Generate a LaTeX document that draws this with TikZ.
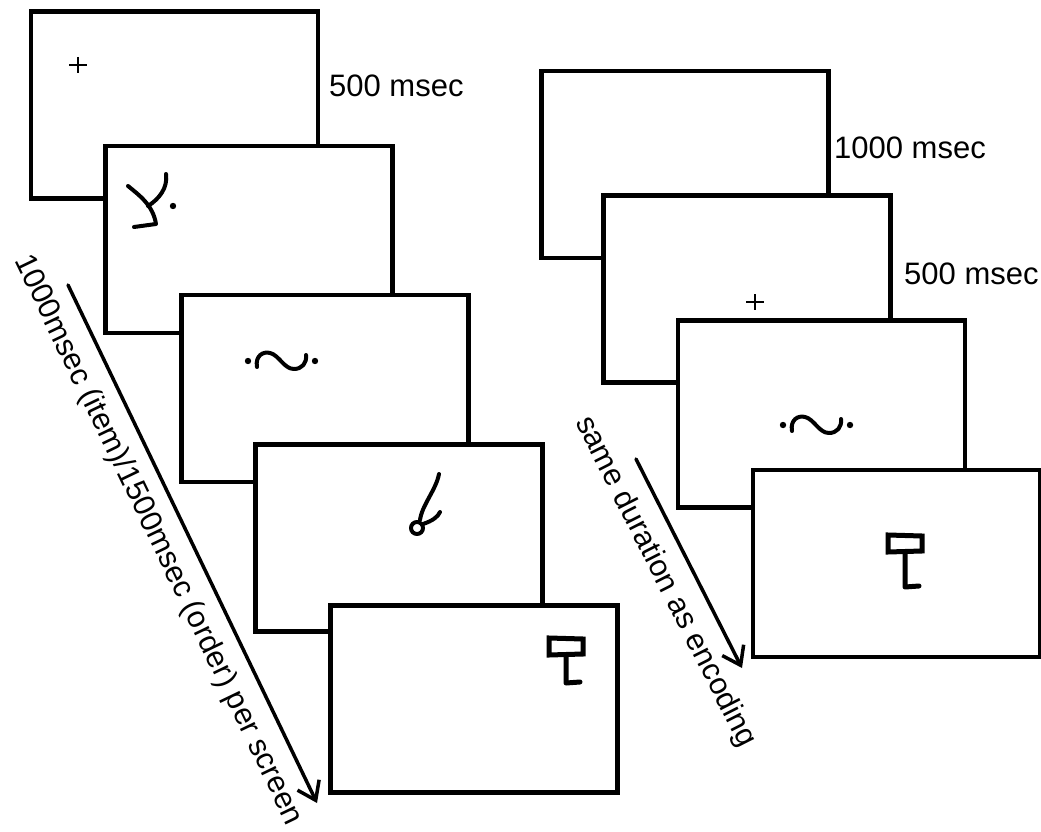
\documentclass[tikz,border=0pt]{standalone}
\usepackage{fontspec}
\setmainfont{Liberation Sans}
\usetikzlibrary{arrows.meta}
\begin{document}
\begin{tikzpicture}[x=1pt,y=-1pt,
  screen/.style={draw=black, fill=white, line width=4.5pt, minimum width=287pt,
    minimum height=187pt, inner sep=0pt, outer sep=0pt},
  timelabel/.style={anchor=base west, inner sep=0pt, font=\fontsize{31}{34}\selectfont},
  flowlabel/.style={inner sep=0pt, font=\fontsize{30.5}{34}\selectfont},
  timearrow/.style={line width=3.5pt, line cap=round,
    -{Straight Barb[length=17pt,width=24pt,line width=3.5pt]}},
  ink/.style={line width=4pt, line cap=round, line join=round},
  cross/.style={line width=2.5pt},
  pics/tildeglyph/.style={code={
    \fill (0,0) circle (3.2pt);
    \draw[ink] (9,6) .. controls (7,-5) and (15,-10) .. (22,-8)
      .. controls (31,-6) and (36,8) .. (46,8)
      .. controls (54,8) and (59,2) .. (58,-6);
    \fill (67,0) circle (3.2pt);
  }},
  pics/flagglyph/.style={code={
    \draw[ink, line width=5pt, line cap=butt, line join=miter]
      (0,0) -- (34,1) -- (34,16) -- (0,17) -- cycle;
    \draw[ink, line width=5pt] (17,17) -- (17,#1) -- (31,#1-1);
  }}
]
\useasboundingbox (0,0) rectangle (1041,832);

% ---- encoding sequence ----
\node[screen] (l1) at (174.5,105) {};
\draw[cross] (69,65) -- (87,65) (78,57) -- (78,73);
\node[timelabel] (t1) at (329,97) {500 msec};

\node[screen] (l2) at (249,239.5) {};
% character on screen 2
\draw[ink] (128,186) .. controls (139,195) and (153,205) .. (156,224) -- (134,227);
\draw[ink] (148,206) .. controls (159,199) and (168,188) .. (166,174);
\fill (173,206) circle (3.2pt);

\node[screen] (l3) at (325,388.5) {};
\pic at (248,361) {tildeglyph};

\node[screen] (l4) at (399,538) {};
% character on screen 4
\draw[ink] (439,474) .. controls (436,490) and (422,505) .. (420,520);
\draw[ink] (417,528) ellipse (6pt and 6pt);
\draw[ink] (423,524) .. controls (432,521) and (438,517) .. (440,512);

\node[screen] (l5) at (474,699) {};
\pic at (549,638) {flagglyph=45};

% ---- retrieval sequence ----
\node[screen] (r1) at (685,164.5) {};
\node[timelabel] (t2) at (834,158) {1000 msec};

\node[screen] (r2) at (747,289) {};
\draw[cross] (746,302) -- (764,302) (755,294) -- (755,310);
\node[timelabel] (t3) at (904,284) {500 msec};

\node[screen] (r3) at (821.5,414) {};
\pic at (783,425) {tildeglyph};

\node[screen] (r4) at (896.5,563.5) {};
\pic at (888,535) {flagglyph=52};

% ---- time arrows ----
\coordinate (la1) at (68,285);
\coordinate (la2) at (317,803);
\draw[timearrow] (la1) -- (la2);
\node[flowlabel, rotate=-64.3] (lt) at (158,540)
  {1000msec (item)/1500msec (order) per screen};

\coordinate (ra1) at (636,459);
\coordinate (ra2) at (742,668);
\draw[timearrow] (ra1) -- (ra2);
\node[flowlabel, rotate=-63.1] (rt) at (665,582) {same duration as encoding};
\end{tikzpicture}
\end{document}
